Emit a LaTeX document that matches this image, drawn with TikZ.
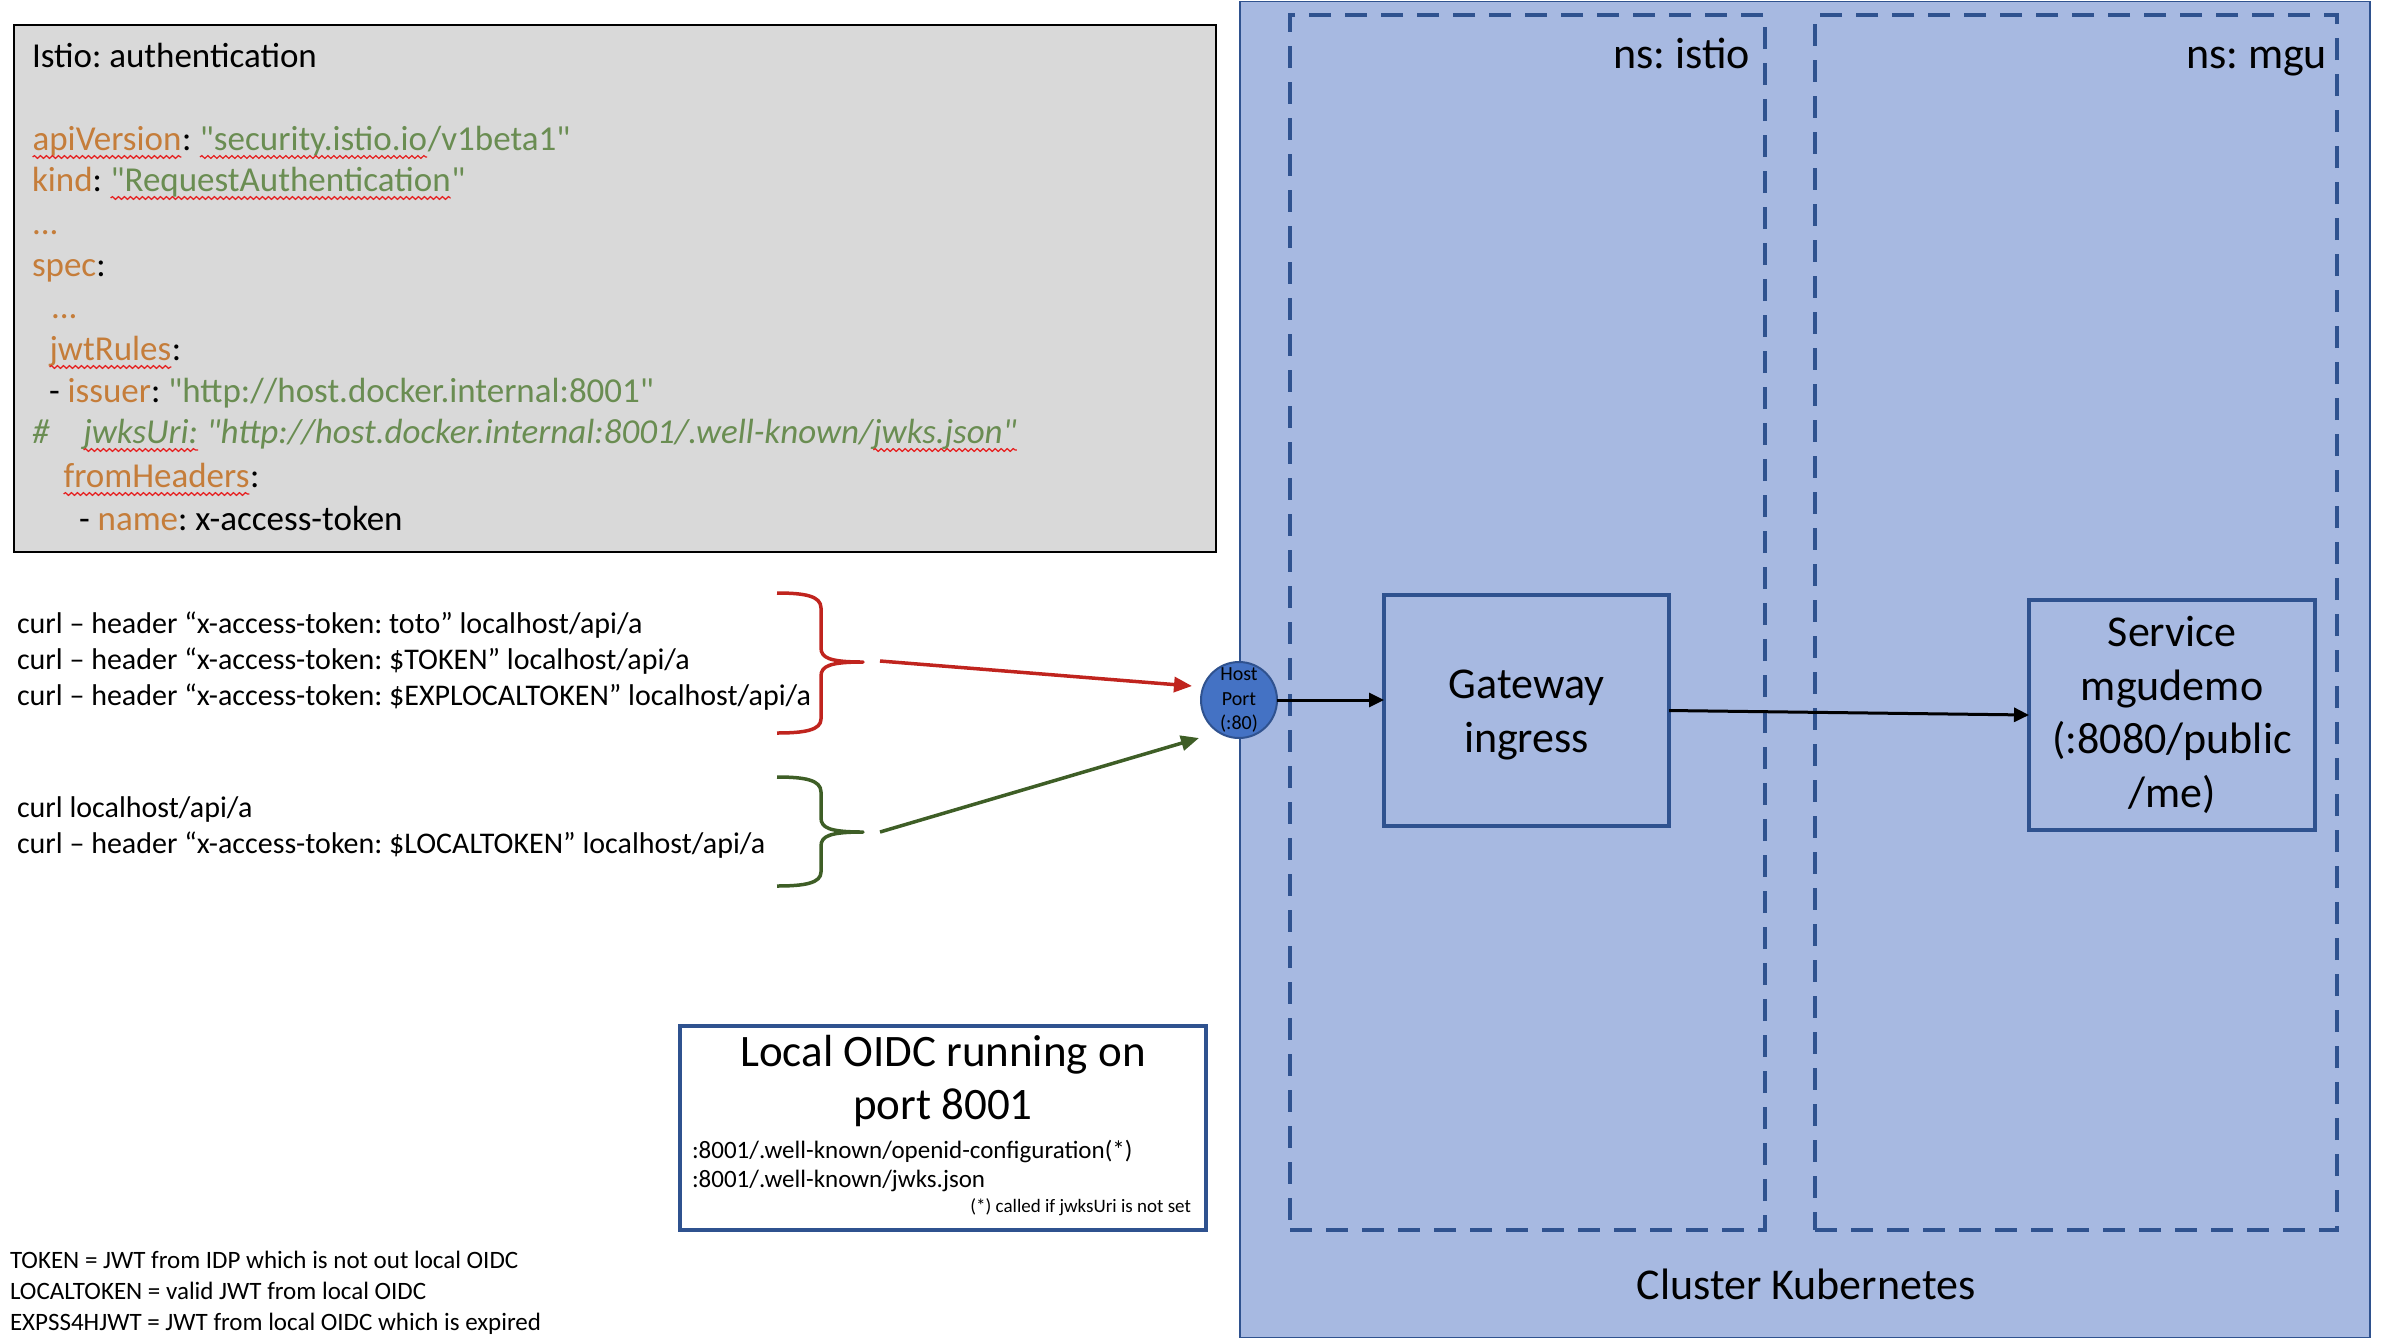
\documentclass[tikz,border=0pt]{standalone}
\usepackage{fontspec}
\setmainfont{Carlito}
\usetikzlibrary{arrows.meta,decorations.pathmorphing}
\definecolor{clfill}{RGB}{167,185,225}
\definecolor{dkblue}{RGB}{47,82,143}
\definecolor{hpblue}{RGB}{68,114,196}
\definecolor{gbox}{RGB}{217,217,217}
\definecolor{yorange}{RGB}{197,125,58}
\definecolor{ygreen}{RGB}{106,141,82}
\definecolor{bred}{RGB}{192,36,30}
\definecolor{bgreen}{RGB}{62,94,38}
\definecolor{sqred}{RGB}{230,30,30}
\tikzset{
  sqline/.style={sqred,line width=1.2pt,decorate,decoration={snake,amplitude=1.4pt,segment length=6pt}},
  yaml/.style={anchor=base west,inner sep=0pt,outer sep=0pt,font=\fontsize{35}{42}\selectfont},
  curltxt/.style={anchor=base west,inner sep=0pt,outer sep=0pt,font=\fontsize{30}{36}\selectfont},
  legtxt/.style={anchor=base west,inner sep=0pt,outer sep=0pt,font=\fontsize{25}{30}\selectfont},
  bigtxt/.style={inner sep=0pt,outer sep=0pt,font=\fontsize{44}{53.5}\selectfont},
  container/.style={draw=dkblue,inner sep=0pt,outer sep=0pt},
  nsbox/.style={draw=dkblue,line width=4pt,dash pattern=on 22pt off 14pt,inner sep=0pt,outer sep=0pt},
  compbox/.style={draw=dkblue,line width=4pt,inner sep=0pt,outer sep=0pt,align=center,font=\fontsize{44}{53.5}\selectfont},
  conn/.style={line width=3pt,-{Triangle[length=15pt,width=14pt]}},
  bracecurve/.style={line width=3.5pt,line join=round},
}
\newcommand\sqw[1]{\tikz[baseline=(W.base)]{\node[inner sep=0pt,outer sep=0pt,anchor=base](W){#1};\draw[sqline]([yshift=-7pt]W.base west)--([yshift=-7pt]W.base east);}}
\newcommand\ora[1]{{\color{yorange}#1}}
\newcommand\grn[1]{{\color{ygreen}#1}}
\newcommand\dq{\XeTeXglyph\XeTeXcharglyph"22\relax}
\AtBeginDocument{\frenchspacing}
\begin{document}
\begin{tikzpicture}[x=1pt,y=-1pt]
\useasboundingbox (0,0) rectangle (2390,1342);
% Kubernetes cluster
\node[container,fill=clfill,line width=1.5pt,minimum width=1130,minimum height=1336] (cluster) at (1805,669.5) {};
\node[nsbox,minimum width=475,minimum height=1215] (nsistio) at (1527.5,622.5) {};
\node[nsbox,minimum width=522,minimum height=1215] (nsmgu) at (2076,622.5) {};
\node[bigtxt,anchor=base east] (lbistio) at (1750,68) {ns: istio};
\node[bigtxt,anchor=base east] (lbmgu) at (2327,68) {ns: mgu};
\node[bigtxt,anchor=base] (lbcluster) at (1806,1299) {Cluster Kubernetes};
% components
\node[compbox,minimum width=285,minimum height=231] (gw) at (1526.5,710.5) {};
\node[bigtxt,align=center] (gwtxt) at (1526.5,715) {Gateway\\ingress};
\node[compbox,minimum width=286,minimum height=230] (svc) at (2172,715) {Service\\mgudemo\\(:8080/public\\/me)};
\node[circle,draw=dkblue,fill=hpblue,line width=2pt,minimum size=76,inner sep=0pt,outer sep=0pt,align=center,font=\fontsize{20}{24.5}\selectfont] (hp) at (1239,700) {Host\\Port\\(:80)};
\draw[conn] (hp.east) -- (hp.east -| gw.west);
\draw[conn] (gw.east) -- (svc.west);
% YAML box
\node[draw=black,fill=gbox,line width=2.5pt,minimum width=1202,minimum height=527,inner sep=0pt] (yamlbox) at (615,288.5) {};
\node[yaml] (y1) at (32,67) {Istio: authentication};
\node[yaml] (y2) at (32,150) {\ora{\sqw{apiVersion}}: \grn{\sqw{\dq security.istio.io}/v1beta1\dq}};
\node[yaml] (y3) at (32,191) {\ora{kind}: \grn{\sqw{\dq RequestAuthentication}\dq}};
\node[yaml] (y4) at (32,234) {\ora{...}};
\node[yaml] (y5) at (32,276) {\ora{spec}:};
\node[yaml] (y6) at (51,318) {\ora{...}};
\node[yaml] (y7) at (49,360) {\ora{\sqw{jwtRules}}:};
\node[yaml] (y8) at (49,402) {- \ora{issuer}: \grn{\dq http://host.docker.internal:8001\dq}};
\node[yaml] (y9a) at (32,443) {\grn{\itshape\#}};
\node[yaml] (y9b) at (83,443) {\grn{\itshape\sqw{jwksUri:} \dq http://host.docker.internal:8001/.well-known/\sqw{jwks.json\dq}}};
\node[yaml] (y10) at (63,487) {\ora{\sqw{fromHeaders}}:};
\node[yaml] (y11) at (79,530) {- \ora{name}: x-access-token};
% curl commands
\node[curltxt] (c1) at (17,633) {curl – header “x-access-token: toto” localhost/api/a};
\node[curltxt] (c2) at (17,669) {curl – header “x-access-token: \$TOKEN” localhost/api/a};
\node[curltxt] (c3) at (17,705) {curl – header “x-access-token: \$EXPLOCALTOKEN” localhost/api/a};
\node[curltxt] (c4) at (17,817) {curl localhost/api/a};
\node[curltxt] (c5) at (17,853) {curl – header “x-access-token: \$LOCALTOKEN” localhost/api/a};
% braces
\draw[bracecurve,bred] (777,593) .. controls (805,593) and (821,596) .. (821,608) -- (821,648)
  .. controls (821,658) and (830,662) .. (863,662)
  .. controls (830,662) and (821,666) .. (821,676) -- (821,719)
  .. controls (821,730) and (805,733) .. (777,733);
\draw[bracecurve,bgreen] (777,777) .. controls (805,777) and (821,780) .. (821,792) -- (821,818)
  .. controls (821,828) and (830,832) .. (863,832)
  .. controls (830,832) and (821,836) .. (821,846) -- (821,872)
  .. controls (821,883) and (805,886) .. (777,886);
\coordinate (rstart) at (880,661);
\coordinate (rend) at (1192,686);
\coordinate (gstart) at (880,832);
\coordinate (gend) at (1199,738);
\draw[bred,line width=3.5pt,-{Triangle[length=18pt,width=15pt]}] (rstart) -- (rend);
\draw[bgreen,line width=3.5pt,-{Triangle[length=18pt,width=15pt]}] (gstart) -- (gend);
% OIDC box
\node[draw=dkblue,fill=white,line width=4pt,minimum width=526,minimum height=204,inner sep=0pt] (oidc) at (943,1128) {};
\node[bigtxt,anchor=base,font=\fontsize{45}{54}\selectfont] (o1) at (943,1066) {Local OIDC running on};
\node[bigtxt,anchor=base,font=\fontsize{45}{54}\selectfont] (o2) at (943,1119) {port 8001};
\node[legtxt] (o3) at (692,1158) {:8001/.well-known/openid-configuration(*)};
\node[legtxt] (o4) at (692,1187) {:8001/.well-known/jwks.json};
\node[legtxt,anchor=base east,font=\fontsize{19}{23}\selectfont] (o5) at (1191,1212) {(*) called if jwksUri is not set};
% legend
\node[legtxt] (l1) at (10,1268) {TOKEN = JWT from IDP which is not out local OIDC};
\node[legtxt] (l2) at (10,1299) {LOCALTOKEN = valid JWT from local OIDC};
\node[legtxt] (l3) at (10,1330) {EXPSS4HJWT = JWT from local OIDC which is expired};
\end{tikzpicture}
\end{document}
